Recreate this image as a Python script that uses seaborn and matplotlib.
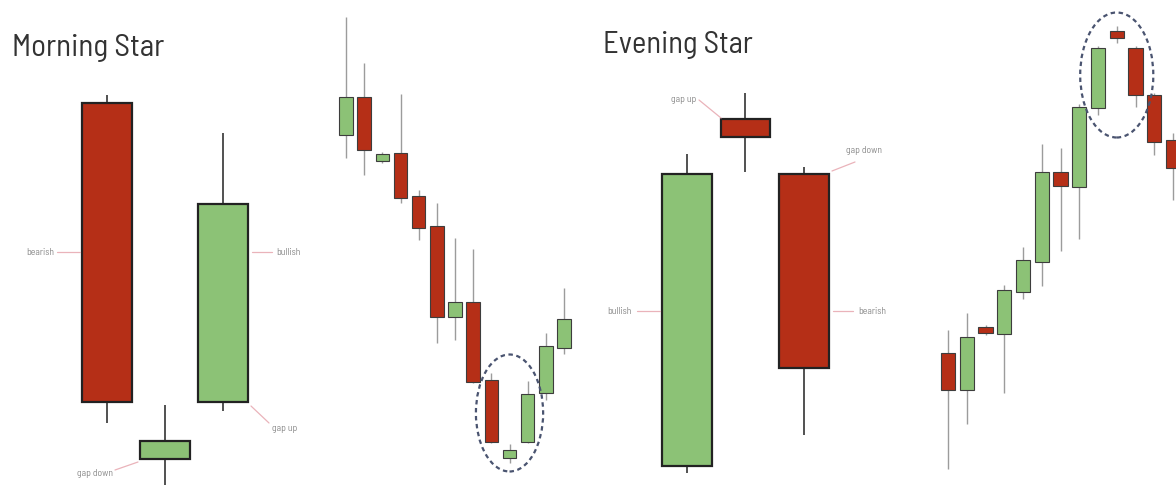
import matplotlib
matplotlib.use("Agg")
import matplotlib.pyplot as plt
from matplotlib import font_manager as fm
from matplotlib.patches import Ellipse
import seaborn as sns

sns.set_theme(style="white")
plt.rcParams["font.family"] = ["Roboto", "DejaVu Sans"]

RED = "#b52f17"
GREEN = "#8cc276"

# candle prices (open, high, low, close) per panel
ms_open = [383, 27, 84]
ms_high = [391, 81, 353]
ms_low = [63, 1, 75]
ms_close = [84, 45, 282]

down_open = [351, 389, 325, 333, 290, 260, 169, 184, 106, 28, 44, 93, 138]
down_high = [469, 423, 334, 392, 296, 283, 248, 237, 113, 42, 105, 153, 198]
down_low = [328, 311, 323, 283, 246, 143, 146, 103, 43, 23, 43, 86, 132]
down_close = [389, 336, 332, 288, 258, 169, 184, 104, 44, 36, 92, 140, 167]

es_open = [20, 367, 312]
es_high = [332, 393, 319]
es_low = [13, 314, 51]
es_close = [312, 349, 118]

up_open = [133, 96, 159, 152, 194, 224, 314, 299, 378, 455, 438, 391, 346]
up_high = [156, 173, 161, 201, 239, 342, 338, 382, 440, 460, 440, 393, 353]
up_low = [17, 62, 151, 93, 187, 200, 235, 247, 371, 443, 379, 331, 286]
up_close = [96, 149, 153, 196, 226, 314, 300, 379, 438, 448, 391, 344, 318]

titles = ["Morning Star", "Evening Star"]

# look for an upright, regular, condensed sans face for the titles
cands = []
for f in fm.fontManager.ttflist:
    if f.style != "normal" or f.weight not in (400, "normal", "regular"):
        continue
    if "Mono" in f.name or "Serif" in f.name:
        continue
    narrow = str(f.stretch) in ("condensed", "semi-condensed") or \
        "Narrow" in f.name or "Condensed" in f.name or "Condensed" in f.fname
    if narrow and "Italic" not in f.fname and "Bold" not in f.fname:
        cands.append(f)
cands.sort(key=lambda f: 0 if "semi" in str(f.stretch).lower() or "SemiCondensed" in f.fname else 1)
if cands:
    title_font = fm.FontProperties(fname=cands[0].fname)
else:
    title_font = fm.FontProperties(family="Roboto")

W, H = 1176, 486
fig = plt.figure(figsize=(W / 100, H / 100), dpi=100)


def panel(left, right, first, step, o, h, l, c, width, big):
    ax = fig.add_axes([left / W, 0, (right - left) / W, 1])
    ax.set_xlim((left - first) / step, (right - first) / step)
    ax.set_ylim(0, H)
    ax.axis("off")
    xs = list(range(len(o)))
    cols = [GREEN if cc >= oo else RED for oo, cc in zip(o, c)]
    bottoms = [min(oo, cc) for oo, cc in zip(o, c)]
    heights = [max(abs(cc - oo), 1) for oo, cc in zip(o, c)]
    if big:
        ax.vlines(xs, l, h, color="#333333", lw=1.2, zorder=1)
        ax.bar(xs, heights, bottom=bottoms, width=width, color=cols,
               edgecolor="#222222", linewidth=1.6, zorder=2)
    else:
        ax.vlines(xs, l, h, color="#9c9c9c", lw=1.0, zorder=1)
        ax.bar(xs, heights, bottom=bottoms, width=width, color=cols,
               edgecolor="#3d3d3d", linewidth=0.8, zorder=2)
    return ax


panel(0, 320, 107, 58, ms_open, ms_high, ms_low, ms_close, 0.845, True)
ax2 = panel(320, 590, 346, 18.17, down_open, down_high, down_low, down_close, 0.74, False)
panel(590, 910, 687, 58.5, es_open, es_high, es_low, es_close, 0.84, True)
ax4 = panel(910, 1176, 948, 18.75, up_open, up_high, up_low, up_close, 0.76, False)

ax2.add_patch(Ellipse((9, 73), 3.7, 117, fill=False, ls=(0, (2, 1.6)),
                      edgecolor="#4a5470", lw=1.6, zorder=3))
ax4.add_patch(Ellipse((9, 411), 3.9, 125, fill=False, ls=(0, (2, 1.6)),
                      edgecolor="#4a5470", lw=1.6, zorder=3))

# overlay for titles and labels in pixel coordinates
ov = fig.add_axes([0, 0, 1, 1], facecolor="none")
ov.set_xlim(0, W)
ov.set_ylim(H, 0)
ov.axis("off")

renderer = fig.canvas.get_renderer()
for txt, tx, ty, target in [(titles[0], 12, 56, 153), (titles[1], 603, 53, 150)]:
    t = ov.text(tx, ty, txt, fontproperties=title_font, fontsize=27,
                color="#333333", ha="left", va="baseline")
    w = t.get_window_extent(renderer).width
    t.set_fontsize(min(30, 27 * target / w))

labels = [
    ("bearish", 54, 252, "right", (57, 252), (80, 252)),
    ("bullish", 276, 252, "left", (252, 252), (272, 252)),
    ("gap up", 272, 428, "left", (251, 406), (269, 423)),
    ("gap down", 113, 473, "right", (115, 470), (138, 462)),
    ("gap up", 696, 99, "right", (699, 100), (721, 118)),
    ("gap down", 846, 150, "left", (832, 171), (855, 162)),
    ("bullish", 632, 311, "right", (637, 311), (660, 311)),
    ("bearish", 858, 311, "left", (833, 311), (853, 311)),
]
for txt, tx, ty, ha, p0, p1 in labels:
    ov.text(tx, ty, txt, fontproperties=title_font, fontsize=7, color="#8a8a8a",
            ha=ha, va="center")
    ov.plot([p0[0], p1[0]], [p0[1], p1[1]], color="#eab3ba", lw=0.9)

fig.savefig("out.png", dpi=100, facecolor="white")
